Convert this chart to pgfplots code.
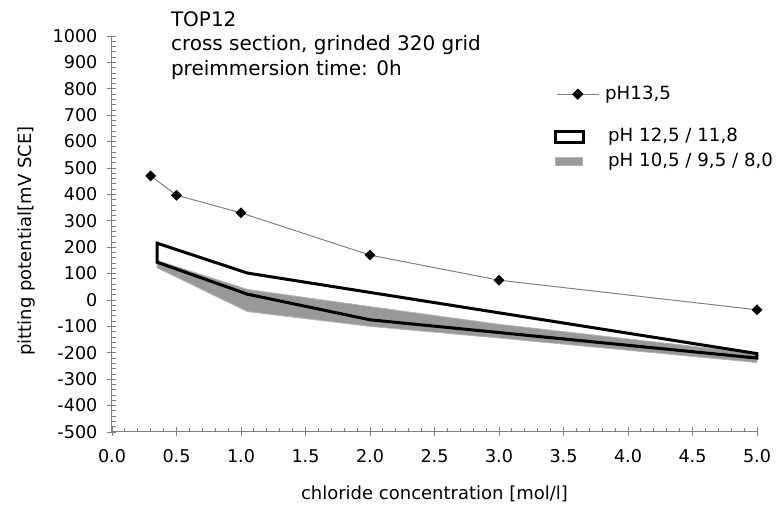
\documentclass[border=0pt]{standalone}
\usepackage{pgfplots}
\pgfplotsset{compat=1.18}
\usepackage{fontspec}
\setmainfont{DejaVu Sans}

\definecolor{axisgray}{RGB}{128,128,128}
\definecolor{bandgray}{RGB}{153,153,153}
\definecolor{bandedge}{RGB}{180,180,180}

\begin{document}
\begin{tikzpicture}[font=\fontsize{9}{11}\selectfont]
\path[use as bounding box] (-56pt,-37pt) rectangle (332pt,216pt);
\begin{axis}[
  at={(0pt,0pt)}, anchor=south west,
  scale only axis, width=322.5pt, height=198pt,
  xmin=0, xmax=5, ymin=-500, ymax=1000,
  axis lines=left,
  axis line style={-, draw=axisgray, line width=0.5pt},
  xtick={0,0.5,...,5}, ytick={-500,-400,...,1000},
  minor x tick num=4, minor y tick num=4,
  tick align=center, major tick length=4.5pt, minor tick length=2pt,
  minor x tick style={yshift=1pt}, minor y tick style={xshift=1pt},
  tick style={axisgray, line width=0.4pt},
  xticklabel style={yshift=-3pt, /pgf/number format/.cd, fixed, fixed zerofill, precision=1},
  yticklabel style={xshift=-1.5pt, /pgf/number format/1000 sep={}},
  /pgf/number format/assume math mode=true,
  tick label style={font=\fontsize{8.8}{10}\selectfont},
  clip=false,
  xlabel={chloride concentration [mol/l]},
  ylabel={pitting potential[mV SCE]},
  xlabel style={at={(axis description cs:0.5,-0.155)}, anchor=center},
  ylabel style={at={(axis description cs:-0.132,0.482)}, anchor=center},
  legend style={at={(0.6837,0.880)}, anchor=north west, draw=none, fill=none,
    inner sep=0pt, column sep=0pt, row sep=2pt,
    nodes={inner xsep=0pt, inner ysep=1pt},
    font=\fontsize{9.1}{11}\selectfont},
  legend cell align=left,
]
% pH 10,5 / 9,5 / 8,0 band
\addplot[forget plot, fill=bandgray, draw=bandedge, line width=0.4pt] coordinates {
  (0.35,150) (1.05,40) (2.0,-25) (3.0,-92) (5.0,-203)
  (5.0,-237) (3.0,-144) (2.0,-100) (1.05,-44) (0.35,122)
} -- cycle;
% pH 12,5 / 11,8 band
\addplot[forget plot, draw=black, line width=1.5pt, line join=miter] coordinates {
  (0.35,215) (1.05,102) (5.0,-203)
  (5.0,-220) (2.0,-75) (1.05,22) (0.35,143)
} -- cycle;
% pH 13,5
\addplot[forget plot, axisgray, line width=0.5pt, mark=square*, mark size=1.8pt,
  mark options={rotate=45, fill=black, draw=black, line width=0.2pt}] coordinates {
  (0.3,470) (0.5,397) (1.0,330) (2.0,170) (3.0,75) (5.0,-37)
};

\addlegendimage{legend image code/.code={
  \path (0pt,0pt) (25.5pt,0pt);
  \draw[axisgray, line width=0.5pt] (1.5pt,0pt) -- (22.5pt,0pt);
  \draw[mark=square*, mark size=1.8pt, mark options={rotate=45, fill=black, draw=black}]
    plot coordinates {(12pt,0pt)};}}
\addlegendentry{pH13,5}
\addlegendimage{empty legend}
\addlegendentry{\rule{0pt}{3.5pt}}
\addlegendimage{legend image code/.code={
  \path (0pt,0pt) (25.5pt,0pt);
  \draw[black, line width=1.5pt, fill=white] (0.75pt,-2.75pt) rectangle (14.75pt,2.75pt);}}
\addlegendentry{\hspace{1.5pt}pH 12,5 / 11,8}
\addlegendimage{legend image code/.code={
  \path (0pt,0pt) (25.5pt,0pt);
  \draw[bandedge, line width=0.4pt, fill=bandgray] (0.75pt,-2pt) rectangle (14.5pt,2pt);}}
\addlegendentry{\hspace{1.5pt}pH 10,5 / 9,5 / 8,0}
\end{axis}
\begin{scope}[font=\fontsize{10}{12}\selectfont]
\node[anchor=base west, inner sep=0pt] at (29.3pt,202.65pt) {TOP12};
\node[anchor=base west, inner sep=0pt] at (29.3pt,190.55pt) {cross section, grinded 320 grid};
\node[anchor=base west, inner sep=0pt] at (29.3pt,178.45pt) {preimmersion time: 0h};
\end{scope}
\end{tikzpicture}
\end{document}
